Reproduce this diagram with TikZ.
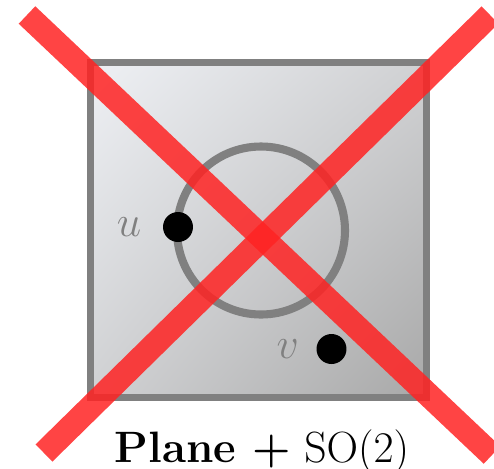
\documentclass[tikz,border=0pt]{standalone}
\usepackage{tikz}
\usetikzlibrary{positioning,shadings}
\definecolor{xred}{RGB}{255,35,35}
\definecolor{rim}{RGB}{128,128,128}
\definecolor{pltl}{RGB}{238,240,244}
\definecolor{pltm}{RGB}{208,209,211}
\definecolor{pltr}{RGB}{168,168,168}
\tikzset{
  plate/.style ={draw=rim, line width=4pt, upper left=pltl, upper right=pltm, lower left=pltm, lower right=pltr},
  ring/.style  ={draw=rim, line width=4.6pt},
  pt/.style    ={circle, fill=black, minimum size=0.6cm, inner sep=0pt},
  ptl/.style   ={font=\fontsize{25}{25}\selectfont, text=gray, inner sep=0pt},
  cross/.style ={draw=xred, line width=13.7pt, draw opacity=0.85},
  ttl/.style   ={font=\fontsize{25}{30}\selectfont, inner sep=0pt},
}
\begin{document}
\begin{tikzpicture}[x=0.02cm, y=-0.02cm]
\useasboundingbox (0,0) rectangle (494,468);
%% ---------- plane ----------
\shade[plate] (90.5,62.5) rectangle (426.5,397.5);
\draw[ring] (261,230.5) circle (84);
%% ---------- points ----------
\node[pt] (u) at (178,227) {};
\node[pt] (v) at (331.5,349) {};
\node[ptl, left=0.42cm of u] (ul) {$u$};
\node[ptl, left=0.34cm of v] (vl) {$v$};
%% ---------- the cross ----------
\coordinate (a1) at (27,15);
\coordinate (a2) at (492,455);
\coordinate (b1) at (44,453);
\coordinate (b2) at (490,15);
\draw[cross] (a1) -- (a2);
\draw[cross] (b1) -- (b2);
% caption
\node[ttl, anchor=base] (cap) at (262,462) {\textbf{Plane +} $\mathrm{SO}(2)$};
\end{tikzpicture}
\end{document}
